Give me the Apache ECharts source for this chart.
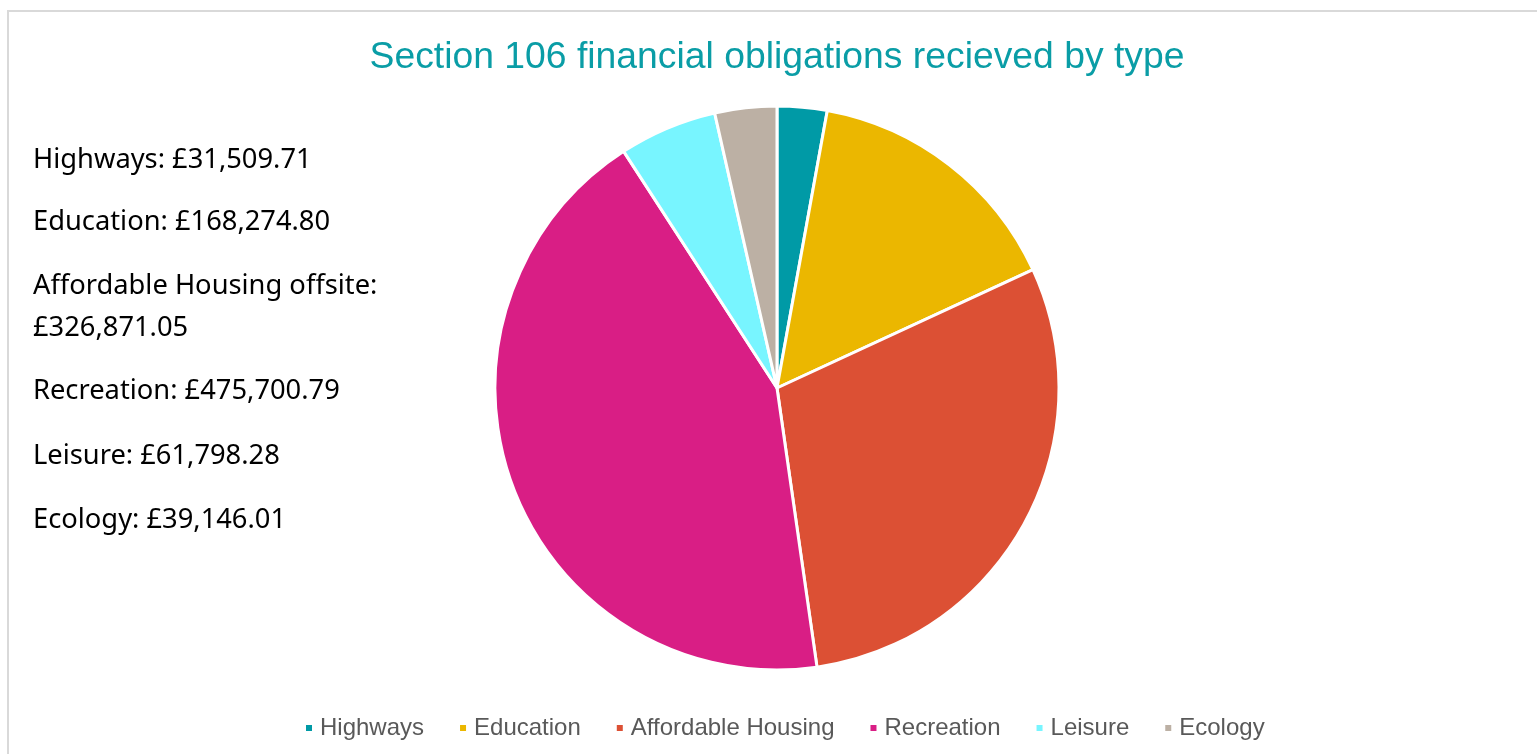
<!DOCTYPE html>
<html><head><meta charset="utf-8">
<script src="https://cdn.jsdelivr.net/npm/echarts@6/dist/echarts.min.js"></script>
<style>html,body{margin:0;padding:0;background:#fff}#c{width:1537px;height:754px}</style>
</head><body><div id="c"></div>
<script>
const categories = ['Highways','Education','Affordable Housing','Recreation','Leisure','Ecology'];
const values = [31509.71, 168274.80, 326871.05, 475700.79, 61798.28, 39146.01];
const textLabels = ['Highways','Education','Affordable Housing offsite','Recreation','Leisure','Ecology'];
const colors = ['#009AA6','#EBB700','#DC5034','#D91E85','#78F5FF','#BCB0A4'];

const fmt = v => '£' + v.toLocaleString('en-GB',{minimumFractionDigits:2,maximumFractionDigits:2});
const lines = textLabels.map((t,i)=> i===2 ? t+':\n'+fmt(values[i]) : t+': '+fmt(values[i]));
const textY = [158,220,284,389,454,518];

const chart = echarts.init(document.getElementById('c'));
const graphics = [{type:'rect',shape:{x:8,y:11,width:1600,height:800},style:{fill:'none',stroke:'#d9d9d9',lineWidth:2},silent:true}];
lines.forEach((s,i)=>{
  graphics.push({type:'text',left:33,top:textY[i]-19,style:{text:s,fontFamily:'Noto Sans',fontSize:27.3,lineHeight:42,fill:'#000'}});
});
chart.setOption({
  backgroundColor:'#fff',
  color: colors,
  title:{text:'Section 106 financial obligations recieved by type',left:772,textAlign:'center',top:34,
    textStyle:{color:'#0A9DA6',fontFamily:'Liberation Sans',fontSize:37.3,fontWeight:'normal'}},
  legend:{bottom:9,left:299,itemWidth:8,itemHeight:8,itemGap:34,icon:'rect',
    textStyle:{fontFamily:'Liberation Sans',fontSize:24,color:'#595959',padding:[0,0,0,2]}},
  graphic: graphics,
  series:[{type:'pie',center:[777,388],radius:282,startAngle:90,clockwise:true,
    label:{show:false},labelLine:{show:false},emphasis:{disabled:true},
    itemStyle:{borderColor:'#fff',borderWidth:3},
    data:categories.map((c,i)=>({name:c,value:values[i]}))}]
});
</script></body></html>
